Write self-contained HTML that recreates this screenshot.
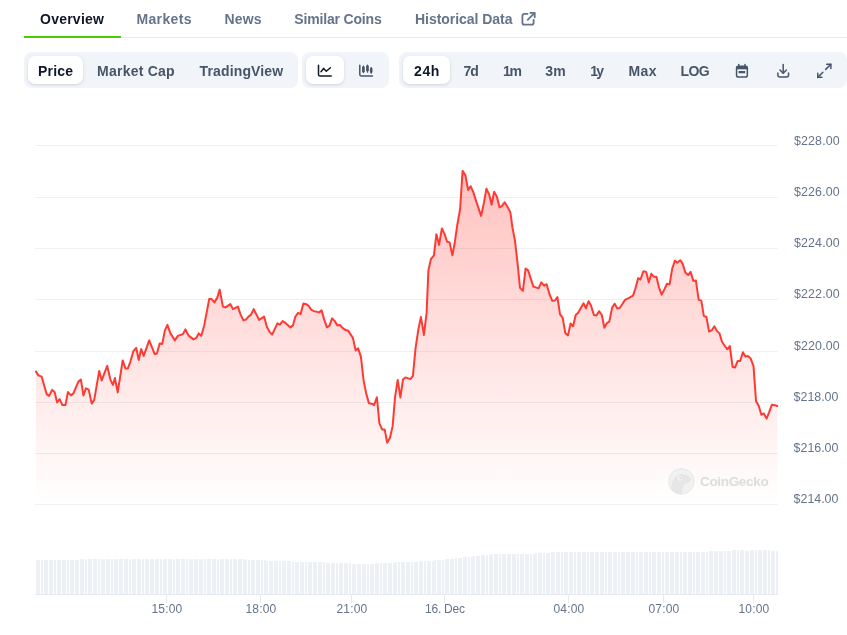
<!DOCTYPE html>
<html lang="en"><head><meta charset="utf-8"><title>Chart</title>
<style>
html,body{margin:0;padding:0;background:#fff;}
body{width:847px;height:635px;position:relative;overflow:hidden;font-family:"Liberation Sans",sans-serif;}
.t{position:absolute;white-space:nowrap;font-weight:700;font-size:14px;line-height:16px;color:#64748b;}
.tab{top:11px;}
.btn{top:63px;color:#475569;}
.dark{color:#0f172a;}
.border{position:absolute;left:24px;right:0;top:37px;height:1px;background:#e8ecf1;}
.ul{position:absolute;left:24px;width:97px;top:36px;height:2px;background:#4bcc00;}
.grp{position:absolute;top:52px;height:36px;background:#f1f5f9;border-radius:8px;}
.pill{position:absolute;top:56px;height:28px;background:#fff;border-radius:7px;box-shadow:0 1px 4px rgba(15,23,42,.09),0 1px 2px rgba(15,23,42,.06);}
svg.hd{position:absolute;left:0;top:0;}
svg.chart{position:absolute;left:0;top:0;}
svg.chart text{font-family:"Liberation Sans",sans-serif;}
.yl text{font-size:12.4px;fill:#64748b;letter-spacing:0.17px;}
.xl text{font-size:12px;fill:#64748b;letter-spacing:0.15px;}
.wm text{font-size:13.6px;font-weight:700;fill:#dcdcdc;letter-spacing:-0.38px;}
</style></head><body>
<div class="border"></div><div class="ul"></div>
<span class="t tab dark" id="t1" style="left:40px;letter-spacing:0.24px">Overview</span>
<span class="t tab" id="t2" style="left:136.4px;letter-spacing:0.38px">Markets</span>
<span class="t tab" id="t3" style="left:224.4px;letter-spacing:0.2px">News</span>
<span class="t tab" id="t4" style="left:294.3px;letter-spacing:-0.17px">Similar Coins</span>
<span class="t tab" id="t5" style="left:415px;letter-spacing:-0.04px">Historical Data</span>

<div class="grp" style="left:24px;width:274px"></div>
<div class="pill" style="left:28px;width:55px"></div>
<span class="t btn dark" id="b1" style="left:38px;letter-spacing:0.17px">Price</span>
<span class="t btn" id="b2" style="left:97.1px;letter-spacing:0.23px">Market Cap</span>
<span class="t btn" id="b3" style="left:199.6px;letter-spacing:0.13px">TradingView</span>

<div class="grp" style="left:302px;width:87px"></div>
<div class="pill" style="left:306px;width:38px"></div>

<div class="grp" style="left:399px;width:448px"></div>
<div class="pill" style="left:403px;width:47px"></div>
<span class="t btn dark" id="r1" style="left:414px;letter-spacing:0.6px">24h</span>
<span class="t btn" id="r2" style="left:463.6px;letter-spacing:-1.1px">7d</span>
<span class="t btn" id="r3" style="left:503px;letter-spacing:-1.2px">1m</span>
<span class="t btn" id="r4" style="left:545.2px;letter-spacing:0.4px">3m</span>
<span class="t btn" id="r5" style="left:590.2px;letter-spacing:-1.6px">1y</span>
<span class="t btn" id="r6" style="left:628.4px;letter-spacing:0.5px">Max</span>
<span class="t btn" id="r7" style="left:680.6px;letter-spacing:-0.6px">LOG</span>
<svg class="hd" width="847" height="100" viewBox="0 0 847 100" fill="none" stroke-linecap="round" stroke-linejoin="round">
<g stroke="#64748b" stroke-width="1.8"><path d="M527.4 13.9H524.4a2 2 0 0 0-2 2V22.7a2 2 0 0 0 2 2h7.2a2 2 0 0 0 2-2V19.8"/><path d="M530.3 12.9H534.7V17.3"/><path d="M534.4 13.2L527.7 19.9"/></g>
<g stroke="#0f172a" stroke-width="1.5"><path d="M318.5 65.2V74.6a1.3 1.3 0 0 0 1.3 1.3H331.2"/><path d="M321 71.7L323.6 68.4L326.3 71.3L330.4 67.7"/></g>
<g stroke="#475569" stroke-width="1.5"><path d="M359.8 65.2V74.6a1.3 1.3 0 0 0 1.3 1.3H372.4"/><path d="M363.4 66.2V72.4M367.45 65.2V71.9M371.2 67.7V72.9"/><path d="M363.4 66.7V71.9M367.45 65.7V70.9M371.2 68.2V72.4" stroke-width="2.6" stroke-linecap="butt"/></g>
<g stroke="#475569" stroke-width="1.5"><rect x="736.55" y="66.2" width="10.8" height="10.75" rx="1.8"/><path d="M736.55 66.6h10.8v2.7h-10.8z" fill="#475569" stroke="none"/><path d="M738.8 64.5V66.4M745 64.5V66.4"/><rect x="738.6" y="71" width="6.6" height="2.3" rx="0.4" fill="#475569" stroke="none"/></g>
<g stroke="#475569" stroke-width="1.5"><path d="M783.2 64.6V73"/><path d="M780 70L783.2 73.2L786.4 70"/><path d="M777.85 72.9V75a2 2 0 0 0 2 2h6.7a2 2 0 0 0 2-2V72.9"/></g>
<g stroke="#475569" stroke-width="1.5"><path d="M826.7 64.25H830.85V68.4"/><path d="M830.85 64.25L825.7 69.4"/><path d="M821.9 77.35H817.75V73.2"/><path d="M817.75 77.35L822.9 72.2"/></g>
</svg>
<svg class="chart" width="847" height="635" viewBox="0 0 847 635">
<defs><linearGradient id="ag" x1="0" y1="0" x2="0" y2="1"><stop offset="0" stop-color="#ff3a33" stop-opacity="0.31"/><stop offset="1" stop-color="#ff3a33" stop-opacity="0"/></linearGradient></defs>
<g stroke="#edf0f4" stroke-width="1" shape-rendering="crispEdges">
<path d="M35 145.5 H778"/>
<path d="M35 197.5 H778"/>
<path d="M35 248.5 H778"/>
<path d="M35 299.5 H778"/>
<path d="M35 351.5 H778"/>
<path d="M35 402.5 H778"/>
<path d="M35 453.5 H778"/>
<path d="M35 504.5 H778"/>
</g>
<g fill="#edf0f4" shape-rendering="crispEdges"><rect x="36" y="560" width="4" height="34"/><rect x="41" y="560" width="2" height="34"/><rect x="44" y="560" width="4" height="34"/><rect x="49" y="560" width="4" height="34"/><rect x="54" y="560" width="2" height="34"/><rect x="57" y="560" width="4" height="34"/><rect x="62" y="560" width="4" height="34"/><rect x="67" y="560" width="2" height="34"/><rect x="70" y="560" width="4" height="34"/><rect x="75" y="560" width="4" height="34"/><rect x="80" y="559" width="4" height="35"/><rect x="85" y="559" width="2" height="35"/><rect x="88" y="559" width="4" height="35"/><rect x="93" y="559" width="4" height="35"/><rect x="98" y="559" width="2" height="35"/><rect x="101" y="559" width="4" height="35"/><rect x="106" y="559" width="4" height="35"/><rect x="111" y="559" width="2" height="35"/><rect x="114" y="559" width="4" height="35"/><rect x="119" y="559" width="4" height="35"/><rect x="124" y="559" width="4" height="35"/><rect x="129" y="559" width="2" height="35"/><rect x="132" y="559" width="4" height="35"/><rect x="137" y="559" width="4" height="35"/><rect x="142" y="559" width="2" height="35"/><rect x="145" y="559" width="4" height="35"/><rect x="150" y="559" width="4" height="35"/><rect x="155" y="559" width="4" height="35"/><rect x="160" y="559" width="2" height="35"/><rect x="163" y="559" width="4" height="35"/><rect x="168" y="559" width="4" height="35"/><rect x="173" y="559" width="2" height="35"/><rect x="176" y="559" width="4" height="35"/><rect x="181" y="559" width="4" height="35"/><rect x="186" y="559" width="2" height="35"/><rect x="189" y="559" width="4" height="35"/><rect x="194" y="559" width="4" height="35"/><rect x="199" y="559" width="4" height="35"/><rect x="204" y="559" width="2" height="35"/><rect x="207" y="559" width="4" height="35"/><rect x="212" y="559" width="4" height="35"/><rect x="217" y="559" width="2" height="35"/><rect x="220" y="559" width="4" height="35"/><rect x="225" y="559" width="4" height="35"/><rect x="230" y="559" width="2" height="35"/><rect x="233" y="559" width="4" height="35"/><rect x="238" y="559" width="4" height="35"/><rect x="243" y="559" width="2" height="35"/><rect x="245" y="560" width="2" height="34"/><rect x="248" y="560" width="2" height="34"/><rect x="251" y="560" width="4" height="34"/><rect x="256" y="560" width="4" height="34"/><rect x="261" y="560" width="2" height="34"/><rect x="264" y="560" width="2" height="34"/><rect x="266" y="561" width="2" height="33"/><rect x="269" y="561" width="4" height="33"/><rect x="274" y="561" width="4" height="33"/><rect x="279" y="561" width="2" height="33"/><rect x="282" y="561" width="4" height="33"/><rect x="287" y="561" width="4" height="33"/><rect x="292" y="562" width="2" height="32"/><rect x="295" y="562" width="4" height="32"/><rect x="300" y="562" width="4" height="32"/><rect x="305" y="562" width="2" height="32"/><rect x="308" y="562" width="4" height="32"/><rect x="313" y="562" width="4" height="32"/><rect x="318" y="562" width="4" height="32"/><rect x="323" y="562" width="2" height="32"/><rect x="326" y="563" width="4" height="31"/><rect x="331" y="563" width="4" height="31"/><rect x="336" y="563" width="2" height="31"/><rect x="339" y="563" width="4" height="31"/><rect x="344" y="563" width="4" height="31"/><rect x="349" y="563" width="2" height="31"/><rect x="352" y="564" width="4" height="30"/><rect x="357" y="564" width="4" height="30"/><rect x="362" y="564" width="4" height="30"/><rect x="367" y="564" width="2" height="30"/><rect x="370" y="564" width="4" height="30"/><rect x="375" y="563" width="4" height="31"/><rect x="380" y="563" width="2" height="31"/><rect x="383" y="563" width="4" height="31"/><rect x="388" y="563" width="4" height="31"/><rect x="393" y="563" width="2" height="31"/><rect x="395" y="562" width="2" height="32"/><rect x="398" y="562" width="2" height="32"/><rect x="401" y="562" width="4" height="32"/><rect x="406" y="562" width="4" height="32"/><rect x="411" y="562" width="2" height="32"/><rect x="414" y="562" width="4" height="32"/><rect x="419" y="561" width="4" height="33"/><rect x="424" y="561" width="2" height="33"/><rect x="427" y="561" width="4" height="33"/><rect x="432" y="561" width="2" height="33"/><rect x="434" y="560" width="2" height="34"/><rect x="437" y="560" width="4" height="34"/><rect x="442" y="560" width="2" height="34"/><rect x="445" y="559" width="4" height="35"/><rect x="450" y="559" width="4" height="35"/><rect x="455" y="558" width="2" height="36"/><rect x="458" y="558" width="4" height="36"/><rect x="463" y="557" width="4" height="37"/><rect x="468" y="557" width="2" height="37"/><rect x="471" y="557" width="2" height="37"/><rect x="473" y="556" width="2" height="38"/><rect x="476" y="556" width="4" height="38"/><rect x="481" y="555" width="4" height="39"/><rect x="486" y="555" width="2" height="39"/><rect x="489" y="555" width="2" height="39"/><rect x="491" y="554" width="2" height="40"/><rect x="494" y="554" width="4" height="40"/><rect x="499" y="554" width="2" height="40"/><rect x="502" y="554" width="4" height="40"/><rect x="507" y="554" width="4" height="40"/><rect x="512" y="554" width="4" height="40"/><rect x="517" y="554" width="2" height="40"/><rect x="520" y="554" width="4" height="40"/><rect x="525" y="554" width="4" height="40"/><rect x="530" y="554" width="2" height="40"/><rect x="533" y="554" width="2" height="40"/><rect x="535" y="553" width="2" height="41"/><rect x="538" y="553" width="4" height="41"/><rect x="543" y="553" width="2" height="41"/><rect x="546" y="553" width="4" height="41"/><rect x="551" y="552" width="4" height="42"/><rect x="556" y="552" width="4" height="42"/><rect x="561" y="552" width="2" height="42"/><rect x="564" y="552" width="4" height="42"/><rect x="569" y="552" width="4" height="42"/><rect x="574" y="552" width="2" height="42"/><rect x="577" y="552" width="4" height="42"/><rect x="582" y="552" width="4" height="42"/><rect x="587" y="552" width="2" height="42"/><rect x="590" y="552" width="4" height="42"/><rect x="595" y="552" width="4" height="42"/><rect x="600" y="552" width="4" height="42"/><rect x="605" y="552" width="2" height="42"/><rect x="608" y="552" width="4" height="42"/><rect x="613" y="552" width="4" height="42"/><rect x="618" y="552" width="2" height="42"/><rect x="621" y="552" width="4" height="42"/><rect x="626" y="552" width="4" height="42"/><rect x="631" y="552" width="4" height="42"/><rect x="636" y="552" width="2" height="42"/><rect x="639" y="552" width="4" height="42"/><rect x="644" y="552" width="4" height="42"/><rect x="649" y="552" width="2" height="42"/><rect x="652" y="552" width="4" height="42"/><rect x="657" y="552" width="4" height="42"/><rect x="662" y="552" width="2" height="42"/><rect x="665" y="552" width="4" height="42"/><rect x="670" y="552" width="4" height="42"/><rect x="675" y="552" width="4" height="42"/><rect x="680" y="552" width="2" height="42"/><rect x="683" y="552" width="4" height="42"/><rect x="688" y="552" width="4" height="42"/><rect x="693" y="552" width="2" height="42"/><rect x="696" y="552" width="4" height="42"/><rect x="701" y="552" width="4" height="42"/><rect x="706" y="552" width="2" height="42"/><rect x="709" y="551" width="4" height="43"/><rect x="714" y="551" width="4" height="43"/><rect x="719" y="551" width="4" height="43"/><rect x="724" y="551" width="2" height="43"/><rect x="727" y="551" width="4" height="43"/><rect x="732" y="550" width="4" height="44"/><rect x="737" y="550" width="2" height="44"/><rect x="740" y="550" width="4" height="44"/><rect x="745" y="551" width="4" height="43"/><rect x="750" y="550" width="4" height="44"/><rect x="755" y="550" width="2" height="44"/><rect x="758" y="550" width="4" height="44"/><rect x="763" y="550" width="4" height="44"/><rect x="768" y="550" width="2" height="44"/><rect x="771" y="551" width="4" height="43"/><rect x="776" y="551" width="2" height="43"/></g>
<path d="M35 594.5 H778" stroke="#e6ebf1" stroke-width="1" shape-rendering="crispEdges"/>
<g stroke="#e6ebf1" stroke-width="1" shape-rendering="crispEdges">
<path d="M166.5 594 V603"/>
<path d="M260.5 594 V603"/>
<path d="M351.5 594 V603"/>
<path d="M444.5 594 V603"/>
<path d="M568.5 594 V603"/>
<path d="M663.5 594 V603"/>
<path d="M753.5 594 V603"/>
</g>
<path d="M36 371.6 L38.4 375.4 L41.6 376.6 L46.6 394.1 L49.1 395.9 L52.1 389.9 L54.6 392.1 L57.1 402.4 L59.6 399.1 L62.4 405.1 L65.4 405.1 L67.9 392.1 L70.9 395.4 L73.4 393.4 L78.4 381.6 L80.9 379.6 L83.4 395.4 L85.9 388.4 L88.7 389.6 L91.7 403.6 L94.2 399.9 L99.2 370.9 L101.7 380.4 L107.2 365.9 L110.4 379.6 L112.9 384.9 L114.9 377.9 L117.7 392.4 L122.7 360.4 L125.4 368.4 L127.9 368.4 L130.4 361.6 L133.4 351.1 L136.2 347.9 L138.7 359.9 L141.2 349.1 L143.7 355.9 L149.2 340.4 L154.7 354.1 L156.9 353.6 L159.7 343.6 L162.2 344.1 L164.9 330.4 L167.4 324.9 L170.4 333.4 L174.9 340.4 L177.9 335.9 L182.9 334.1 L185.4 329.4 L188.4 335.4 L193.4 339.4 L196.2 337.9 L198.7 333.4 L201.2 335.9 L204.2 325.4 L209.2 299.1 L211.7 299.1 L214.4 302.4 L217.2 297.9 L219.7 289.6 L222.9 306.6 L225.4 307.4 L230.4 304.1 L232.9 309.1 L237.9 306.6 L240.4 314.1 L243.4 320.4 L245.9 319.6 L248.4 316.6 L250.9 314.9 L253.7 309.1 L259.1 319.9 L264.1 316.6 L266.9 327.1 L269.4 331.6 L272.1 334.6 L277.4 323.4 L279.9 324.6 L282.6 321.1 L285.4 322.9 L290.4 327.4 L292.9 325.4 L295.4 316.6 L298.1 312.9 L300.6 314.1 L303.4 303.4 L306.1 304.1 L308.6 305.9 L311.4 309.9 L314.1 311.1 L319.1 312.4 L321.6 310.4 L324.1 319.1 L326.9 327.4 L329.4 325.9 L332.1 318.4 L334.6 320.9 L337.4 325.4 L339.9 324.9 L342.4 327.9 L345.4 329.9 L347.9 330.4 L350.4 334.1 L352.9 337.9 L355.6 350.4 L358.1 348.4 L360.9 356.6 L363.6 380.4 L366.1 393 L368.9 403.3 L371.6 403.7 L374.1 405 L376.9 397.4 L379.4 423.3 L382.2 429.6 L384.7 429.6 L387.2 442.8 L390 437.7 L392.6 426.4 L395.1 396.8 L397.7 379.9 L400.4 397.4 L403 379.6 L405.4 377.4 L410.4 379.1 L412.9 375.9 L415.6 347.9 L418.4 329.1 L420.9 317.1 L423.9 334.9 L426.6 312.9 L428.4 270.4 L430.9 259.1 L433.9 255.4 L436.4 234.2 L439.1 244.9 L441.9 228.4 L444.6 234.2 L447.1 241.7 L449.6 242.4 L452.4 255.4 L454.9 241.7 L457.4 224.2 L460.1 209.2 L462.6 170.9 L465.4 175.4 L468.1 189.9 L470.6 186.2 L473.4 192.4 L475.9 200.4 L481.1 215.9 L483.9 202.9 L486.4 188.7 L489.1 194.2 L491.6 204.7 L494.1 191.7 L496.9 196.7 L499.6 207.4 L502.1 205.9 L504.6 202.2 L507.4 206.7 L510.4 212.4 L512.4 227.4 L514.9 240.4 L517.4 261.6 L520 287.9 L522.9 290.9 L525.6 268.6 L528.1 270.4 L530.9 279.1 L533.4 286.6 L538.6 288.4 L541.3 282.3 L544.2 285.7 L546.6 284.2 L549.5 294.2 L552.3 300.8 L554.9 300.5 L557.4 297.1 L560 314.1 L562.7 317.8 L565.3 333 L568 335.4 L570.6 323.5 L573.1 326.3 L575.7 315 L578.2 312.7 L583.5 303.3 L585.9 308.4 L588.6 301.2 L591 305.6 L593.9 315 L596.5 315.4 L599.1 311.2 L601.8 315 L604.4 327.7 L606.9 323.1 L609.3 321.6 L612.2 307.5 L614.6 303.7 L617.3 308.4 L619.7 308 L622.6 303.7 L625 299.9 L627.7 298.6 L633 295.6 L635.4 288.6 L638.1 278.2 L640.5 279.5 L643.3 271.2 L646.2 271.9 L648.8 282.3 L651.3 273.8 L653.7 276.7 L656.4 276.7 L659 287.6 L661.7 294.6 L664.5 289.1 L667 283.8 L669.6 284.4 L672.2 268.7 L674.9 260.6 L677.3 262.7 L680.2 260.2 L682.6 263.6 L685.3 272.5 L688.1 275 L690.6 271.9 L693.4 281 L695.9 280.6 L698.7 299.9 L701.3 300.6 L703.8 315.8 L706.4 317 L709.1 331.6 L711.9 330.1 L714.4 326.3 L716.9 330.9 L719.5 333.4 L722 341.7 L724.5 345.5 L727.3 349.3 L729.8 346 L732.6 366.9 L735.1 367.4 L737.6 361.1 L740.1 361.1 L742.9 352.3 L745.4 356.6 L747.9 356.1 L750.7 358.6 L753.5 366.1 L756 400.9 L758.8 406 L761.3 414.8 L763.8 413.5 L766.6 418.6 L769.1 412.3 L771.9 404.7 L774.9 405.2 L777.3 406 L777.3 504.5 L36 504.5 Z" fill="url(#ag)"/>
<path d="M36 371.6 L38.4 375.4 L41.6 376.6 L46.6 394.1 L49.1 395.9 L52.1 389.9 L54.6 392.1 L57.1 402.4 L59.6 399.1 L62.4 405.1 L65.4 405.1 L67.9 392.1 L70.9 395.4 L73.4 393.4 L78.4 381.6 L80.9 379.6 L83.4 395.4 L85.9 388.4 L88.7 389.6 L91.7 403.6 L94.2 399.9 L99.2 370.9 L101.7 380.4 L107.2 365.9 L110.4 379.6 L112.9 384.9 L114.9 377.9 L117.7 392.4 L122.7 360.4 L125.4 368.4 L127.9 368.4 L130.4 361.6 L133.4 351.1 L136.2 347.9 L138.7 359.9 L141.2 349.1 L143.7 355.9 L149.2 340.4 L154.7 354.1 L156.9 353.6 L159.7 343.6 L162.2 344.1 L164.9 330.4 L167.4 324.9 L170.4 333.4 L174.9 340.4 L177.9 335.9 L182.9 334.1 L185.4 329.4 L188.4 335.4 L193.4 339.4 L196.2 337.9 L198.7 333.4 L201.2 335.9 L204.2 325.4 L209.2 299.1 L211.7 299.1 L214.4 302.4 L217.2 297.9 L219.7 289.6 L222.9 306.6 L225.4 307.4 L230.4 304.1 L232.9 309.1 L237.9 306.6 L240.4 314.1 L243.4 320.4 L245.9 319.6 L248.4 316.6 L250.9 314.9 L253.7 309.1 L259.1 319.9 L264.1 316.6 L266.9 327.1 L269.4 331.6 L272.1 334.6 L277.4 323.4 L279.9 324.6 L282.6 321.1 L285.4 322.9 L290.4 327.4 L292.9 325.4 L295.4 316.6 L298.1 312.9 L300.6 314.1 L303.4 303.4 L306.1 304.1 L308.6 305.9 L311.4 309.9 L314.1 311.1 L319.1 312.4 L321.6 310.4 L324.1 319.1 L326.9 327.4 L329.4 325.9 L332.1 318.4 L334.6 320.9 L337.4 325.4 L339.9 324.9 L342.4 327.9 L345.4 329.9 L347.9 330.4 L350.4 334.1 L352.9 337.9 L355.6 350.4 L358.1 348.4 L360.9 356.6 L363.6 380.4 L366.1 393 L368.9 403.3 L371.6 403.7 L374.1 405 L376.9 397.4 L379.4 423.3 L382.2 429.6 L384.7 429.6 L387.2 442.8 L390 437.7 L392.6 426.4 L395.1 396.8 L397.7 379.9 L400.4 397.4 L403 379.6 L405.4 377.4 L410.4 379.1 L412.9 375.9 L415.6 347.9 L418.4 329.1 L420.9 317.1 L423.9 334.9 L426.6 312.9 L428.4 270.4 L430.9 259.1 L433.9 255.4 L436.4 234.2 L439.1 244.9 L441.9 228.4 L444.6 234.2 L447.1 241.7 L449.6 242.4 L452.4 255.4 L454.9 241.7 L457.4 224.2 L460.1 209.2 L462.6 170.9 L465.4 175.4 L468.1 189.9 L470.6 186.2 L473.4 192.4 L475.9 200.4 L481.1 215.9 L483.9 202.9 L486.4 188.7 L489.1 194.2 L491.6 204.7 L494.1 191.7 L496.9 196.7 L499.6 207.4 L502.1 205.9 L504.6 202.2 L507.4 206.7 L510.4 212.4 L512.4 227.4 L514.9 240.4 L517.4 261.6 L520 287.9 L522.9 290.9 L525.6 268.6 L528.1 270.4 L530.9 279.1 L533.4 286.6 L538.6 288.4 L541.3 282.3 L544.2 285.7 L546.6 284.2 L549.5 294.2 L552.3 300.8 L554.9 300.5 L557.4 297.1 L560 314.1 L562.7 317.8 L565.3 333 L568 335.4 L570.6 323.5 L573.1 326.3 L575.7 315 L578.2 312.7 L583.5 303.3 L585.9 308.4 L588.6 301.2 L591 305.6 L593.9 315 L596.5 315.4 L599.1 311.2 L601.8 315 L604.4 327.7 L606.9 323.1 L609.3 321.6 L612.2 307.5 L614.6 303.7 L617.3 308.4 L619.7 308 L622.6 303.7 L625 299.9 L627.7 298.6 L633 295.6 L635.4 288.6 L638.1 278.2 L640.5 279.5 L643.3 271.2 L646.2 271.9 L648.8 282.3 L651.3 273.8 L653.7 276.7 L656.4 276.7 L659 287.6 L661.7 294.6 L664.5 289.1 L667 283.8 L669.6 284.4 L672.2 268.7 L674.9 260.6 L677.3 262.7 L680.2 260.2 L682.6 263.6 L685.3 272.5 L688.1 275 L690.6 271.9 L693.4 281 L695.9 280.6 L698.7 299.9 L701.3 300.6 L703.8 315.8 L706.4 317 L709.1 331.6 L711.9 330.1 L714.4 326.3 L716.9 330.9 L719.5 333.4 L722 341.7 L724.5 345.5 L727.3 349.3 L729.8 346 L732.6 366.9 L735.1 367.4 L737.6 361.1 L740.1 361.1 L742.9 352.3 L745.4 356.6 L747.9 356.1 L750.7 358.6 L753.5 366.1 L756 400.9 L758.8 406 L761.3 414.8 L763.8 413.5 L766.6 418.6 L769.1 412.3 L771.9 404.7 L774.9 405.2 L777.3 406" fill="none" stroke="#ff3a33" stroke-width="2" stroke-linejoin="round" stroke-linecap="round"/>
<g class="yl">
<text x="793.9" y="144.7">$228.00</text>
<text x="793.9" y="195.9">$226.00</text>
<text x="793.9" y="247.1">$224.00</text>
<text x="793.9" y="298.3">$222.00</text>
<text x="793.9" y="349.5">$220.00</text>
<text x="793.6" y="400.6" style="letter-spacing:0">$218.00</text>
<text x="793.6" y="451.8" style="letter-spacing:0">$216.00</text>
<text x="793.6" y="503" style="letter-spacing:0">$214.00</text>
</g>
<g class="xl" text-anchor="middle">
<text x="166.9" y="612.7">15:00</text>
<text x="260.9" y="612.7">18:00</text>
<text x="351.9" y="612.7">21:00</text>
<text x="444.9" y="612.7" style="letter-spacing:-0.23px">16. Dec</text>
<text x="568.9" y="612.7">04:00</text>
<text x="663.9" y="612.7">07:00</text>
<text x="753.9" y="612.7">10:00</text>
</g>
<g class="wm"><circle cx="681.4" cy="481.4" r="12.8" fill="#f1f1f1" stroke="#e8e8e8" stroke-width="1"/><path d="M671 489.5 C671.5 482 674.5 475.5 680 474.2 C684 473.5 687 476 690.4 477.6 C691.8 478.4 691.4 480.6 690 481.6 C688 483.2 685.6 483.6 684 484.4 C682.8 487 682 490.5 681.6 494 C677.5 494.4 673.5 492.6 671 489.5 Z" fill="#e6e6e6"/><circle cx="679.8" cy="478.4" r="2.2" fill="#f7f7f7"/><circle cx="680.1" cy="478.3" r="1" fill="#d4d4d4"/><text x="700" y="485.5">CoinGecko</text></g>
</svg>
</body></html>
